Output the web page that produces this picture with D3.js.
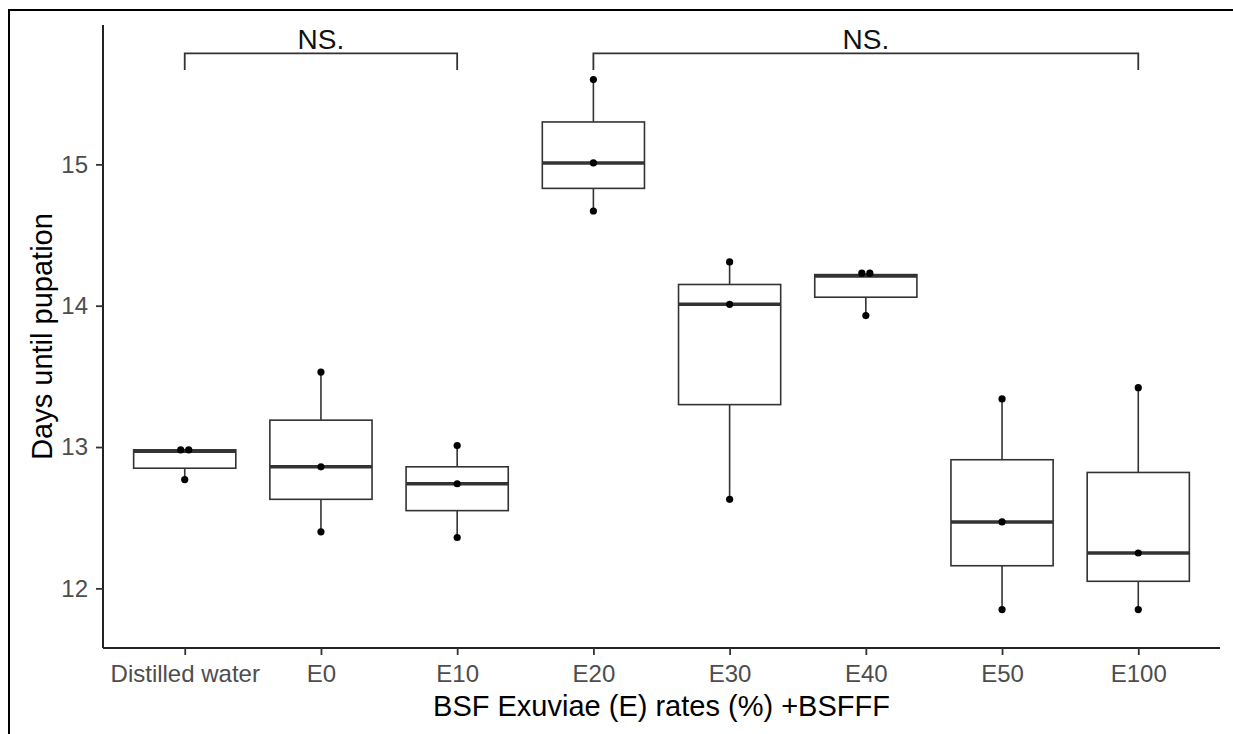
<!DOCTYPE html>
<html>
<head>
<meta charset="utf-8">
<script src="https://cdn.jsdelivr.net/npm/d3@7"></script>
<style>
  body { margin: 0; background: #fff; }
  svg { display: block; font-family: "Liberation Sans", Arial, sans-serif; }
</style>
</head>
<body>
<div id="chart"></div>
<script>
// Days until pupation per treatment, boxplot + individual points

let categories = ["Distilled water", "E0", "E10", "E20", "E30", "E40", "E50", "E100"];

// individual observations per group
let pointValues = [
  [12.98, 12.98, 12.77],
  [13.53, 12.86, 12.40],
  [13.01, 12.74, 12.36],
  [15.60, 15.01, 14.67],
  [14.31, 14.01, 12.63],
  [14.23, 14.23, 13.93],
  [13.34, 12.47, 11.85],
  [13.42, 12.25, 11.85]
];

// box statistics
let whiskerLow  = [12.77, 12.40, 12.36, 14.67, 12.63, 13.93, 11.85, 11.85];
let boxQ1       = [12.85, 12.63, 12.55, 14.83, 13.30, 14.06, 12.16, 12.05];
let boxMedian   = [12.97, 12.86, 12.74, 15.01, 14.01, 14.21, 12.47, 12.25];
let boxQ3       = [12.98, 13.19, 12.86, 15.30, 14.15, 14.22, 12.91, 12.82];
let whiskerHigh = [12.98, 13.53, 13.01, 15.60, 14.31, 14.23, 13.34, 13.42];

let yTicks = [12, 13, 14, 15];

// significance brackets
let comparisons = [
  {from: "Distilled water", to: "E10", label: "NS."},
  {from: "E20", to: "E100", label: "NS."}
];
let bracketLevel = 15.785;
let bracketTip = 15.667;

let xTitle = "BSF Exuviae (E) rates (%) +BSFFF";
let yTitle = "Days until pupation";

////////////////////////////////////////////////////////////////////////
// layout

let svgW = 1233, svgH = 734;
let panelL = 103, panelR = 1220, panelT = 25, panelB = 648;
let ink = "#333333";

let svg = d3.select("#chart").append("svg")
  .attr("width", svgW)
  .attr("height", svgH);

let xScale = d3.scalePoint().domain(categories).range([panelL, panelR]).padding(0.6);
let yScale = d3.scaleLinear().domain([11.578, 15.986]).range([panelB, panelT]);
let boxW = xScale.step() * 0.75;

// outer frame (cropped on right and bottom)
svg.append("rect")
  .attr("x", 9).attr("y", 10)
  .attr("width", 1250).attr("height", 760)
  .attr("fill", "none")
  .attr("stroke", "#000")
  .attr("stroke-width", 2);

////////////////////////////////////////////////////////////////////////
// axes

let xAxis = svg.append("g")
  .attr("transform", "translate(0," + panelB + ")")
  .call(d3.axisBottom(xScale).tickSize(7).tickSizeOuter(0).tickPadding(10));

let yAxis = svg.append("g")
  .attr("transform", "translate(" + panelL + ",0)")
  .call(d3.axisLeft(yScale).tickValues(yTicks).tickSize(7).tickSizeOuter(0).tickPadding(8)
    .tickFormat(d3.format("d")));

[xAxis, yAxis].forEach(function(ax) {
  ax.select(".domain").attr("stroke", "#222").attr("stroke-width", 2);
  ax.selectAll(".tick line").attr("stroke", ink).attr("stroke-width", 1.8);
  ax.selectAll(".tick text")
    .attr("fill", "#4d4d4d")
    .style("font-size", "24px")
    .style("font-family", "'Liberation Sans', Arial, sans-serif");
});
// ggplot axis lines run the full panel
xAxis.select(".domain").attr("d", "M" + panelL + ",0H" + panelR);
yAxis.select(".domain").attr("d", "M0," + panelT + "V" + panelB);

svg.append("text")
  .attr("x", (panelL + panelR) / 2)
  .attr("y", 716)
  .attr("text-anchor", "middle")
  .style("font-size", "29px")
  .attr("fill", "#000")
  .text(xTitle);

svg.append("text")
  .attr("transform", "translate(52," + (panelT + panelB) / 2 + ") rotate(-90)")
  .attr("text-anchor", "middle")
  .style("font-size", "29px")
  .attr("fill", "#000")
  .text(yTitle);

////////////////////////////////////////////////////////////////////////
// boxes

let groups = svg.append("g")
  .selectAll("g")
  .data(categories)
  .enter()
  .append("g")
  .attr("transform", function(d) { return "translate(" + xScale(d) + ",0)"; });

groups.append("line")
  .attr("x1", 0).attr("x2", 0)
  .attr("y1", function(d, i) { return yScale(whiskerHigh[i]); })
  .attr("y2", function(d, i) { return yScale(boxQ3[i]); })
  .attr("stroke", ink).attr("stroke-width", 1.6);

groups.append("line")
  .attr("x1", 0).attr("x2", 0)
  .attr("y1", function(d, i) { return yScale(boxQ1[i]); })
  .attr("y2", function(d, i) { return yScale(whiskerLow[i]); })
  .attr("stroke", ink).attr("stroke-width", 1.6);

groups.append("rect")
  .attr("x", -boxW / 2)
  .attr("width", boxW)
  .attr("y", function(d, i) { return yScale(boxQ3[i]); })
  .attr("height", function(d, i) { return yScale(boxQ1[i]) - yScale(boxQ3[i]); })
  .attr("fill", "#fff")
  .attr("stroke", ink).attr("stroke-width", 1.6);

groups.append("line")
  .attr("x1", -boxW / 2).attr("x2", boxW / 2)
  .attr("y1", function(d, i) { return yScale(boxMedian[i]); })
  .attr("y2", function(d, i) { return yScale(boxMedian[i]); })
  .attr("stroke", ink).attr("stroke-width", 3.4);

// points; equal values are nudged apart so both stay visible
groups.selectAll("circle")
  .data(function(d, i) {
    return pointValues[i].map(function(v, j, arr) {
      let same = arr.filter(function(w) { return w === v; }).length;
      let k = arr.slice(0, j).filter(function(w) { return w === v; }).length;
      return {v: v, dx: same > 1 ? (k - (same - 1) / 2) * 8 : 0};
    });
  })
  .enter()
  .append("circle")
  .attr("cx", function(p) { return p.dx; })
  .attr("cy", function(p) { return yScale(p.v); })
  .attr("r", 3.6)
  .attr("fill", "#000");

////////////////////////////////////////////////////////////////////////
// brackets

let brackets = svg.append("g")
  .selectAll("g")
  .data(comparisons)
  .enter()
  .append("g");

brackets.append("path")
  .attr("d", function(c) {
    let x1 = xScale(c.from), x2 = xScale(c.to);
    return "M" + x1 + "," + yScale(bracketTip) + "V" + yScale(bracketLevel) +
      "H" + x2 + "V" + yScale(bracketTip);
  })
  .attr("fill", "none")
  .attr("stroke", ink)
  .attr("stroke-width", 1.8);

brackets.append("text")
  .attr("x", function(c) { return (xScale(c.from) + xScale(c.to)) / 2; })
  .attr("y", yScale(bracketLevel) - 4)
  .attr("text-anchor", "middle")
  .style("font-size", "28px")
  .attr("fill", "#111")
  .text(function(c) { return c.label; });
</script>
</body>
</html>
